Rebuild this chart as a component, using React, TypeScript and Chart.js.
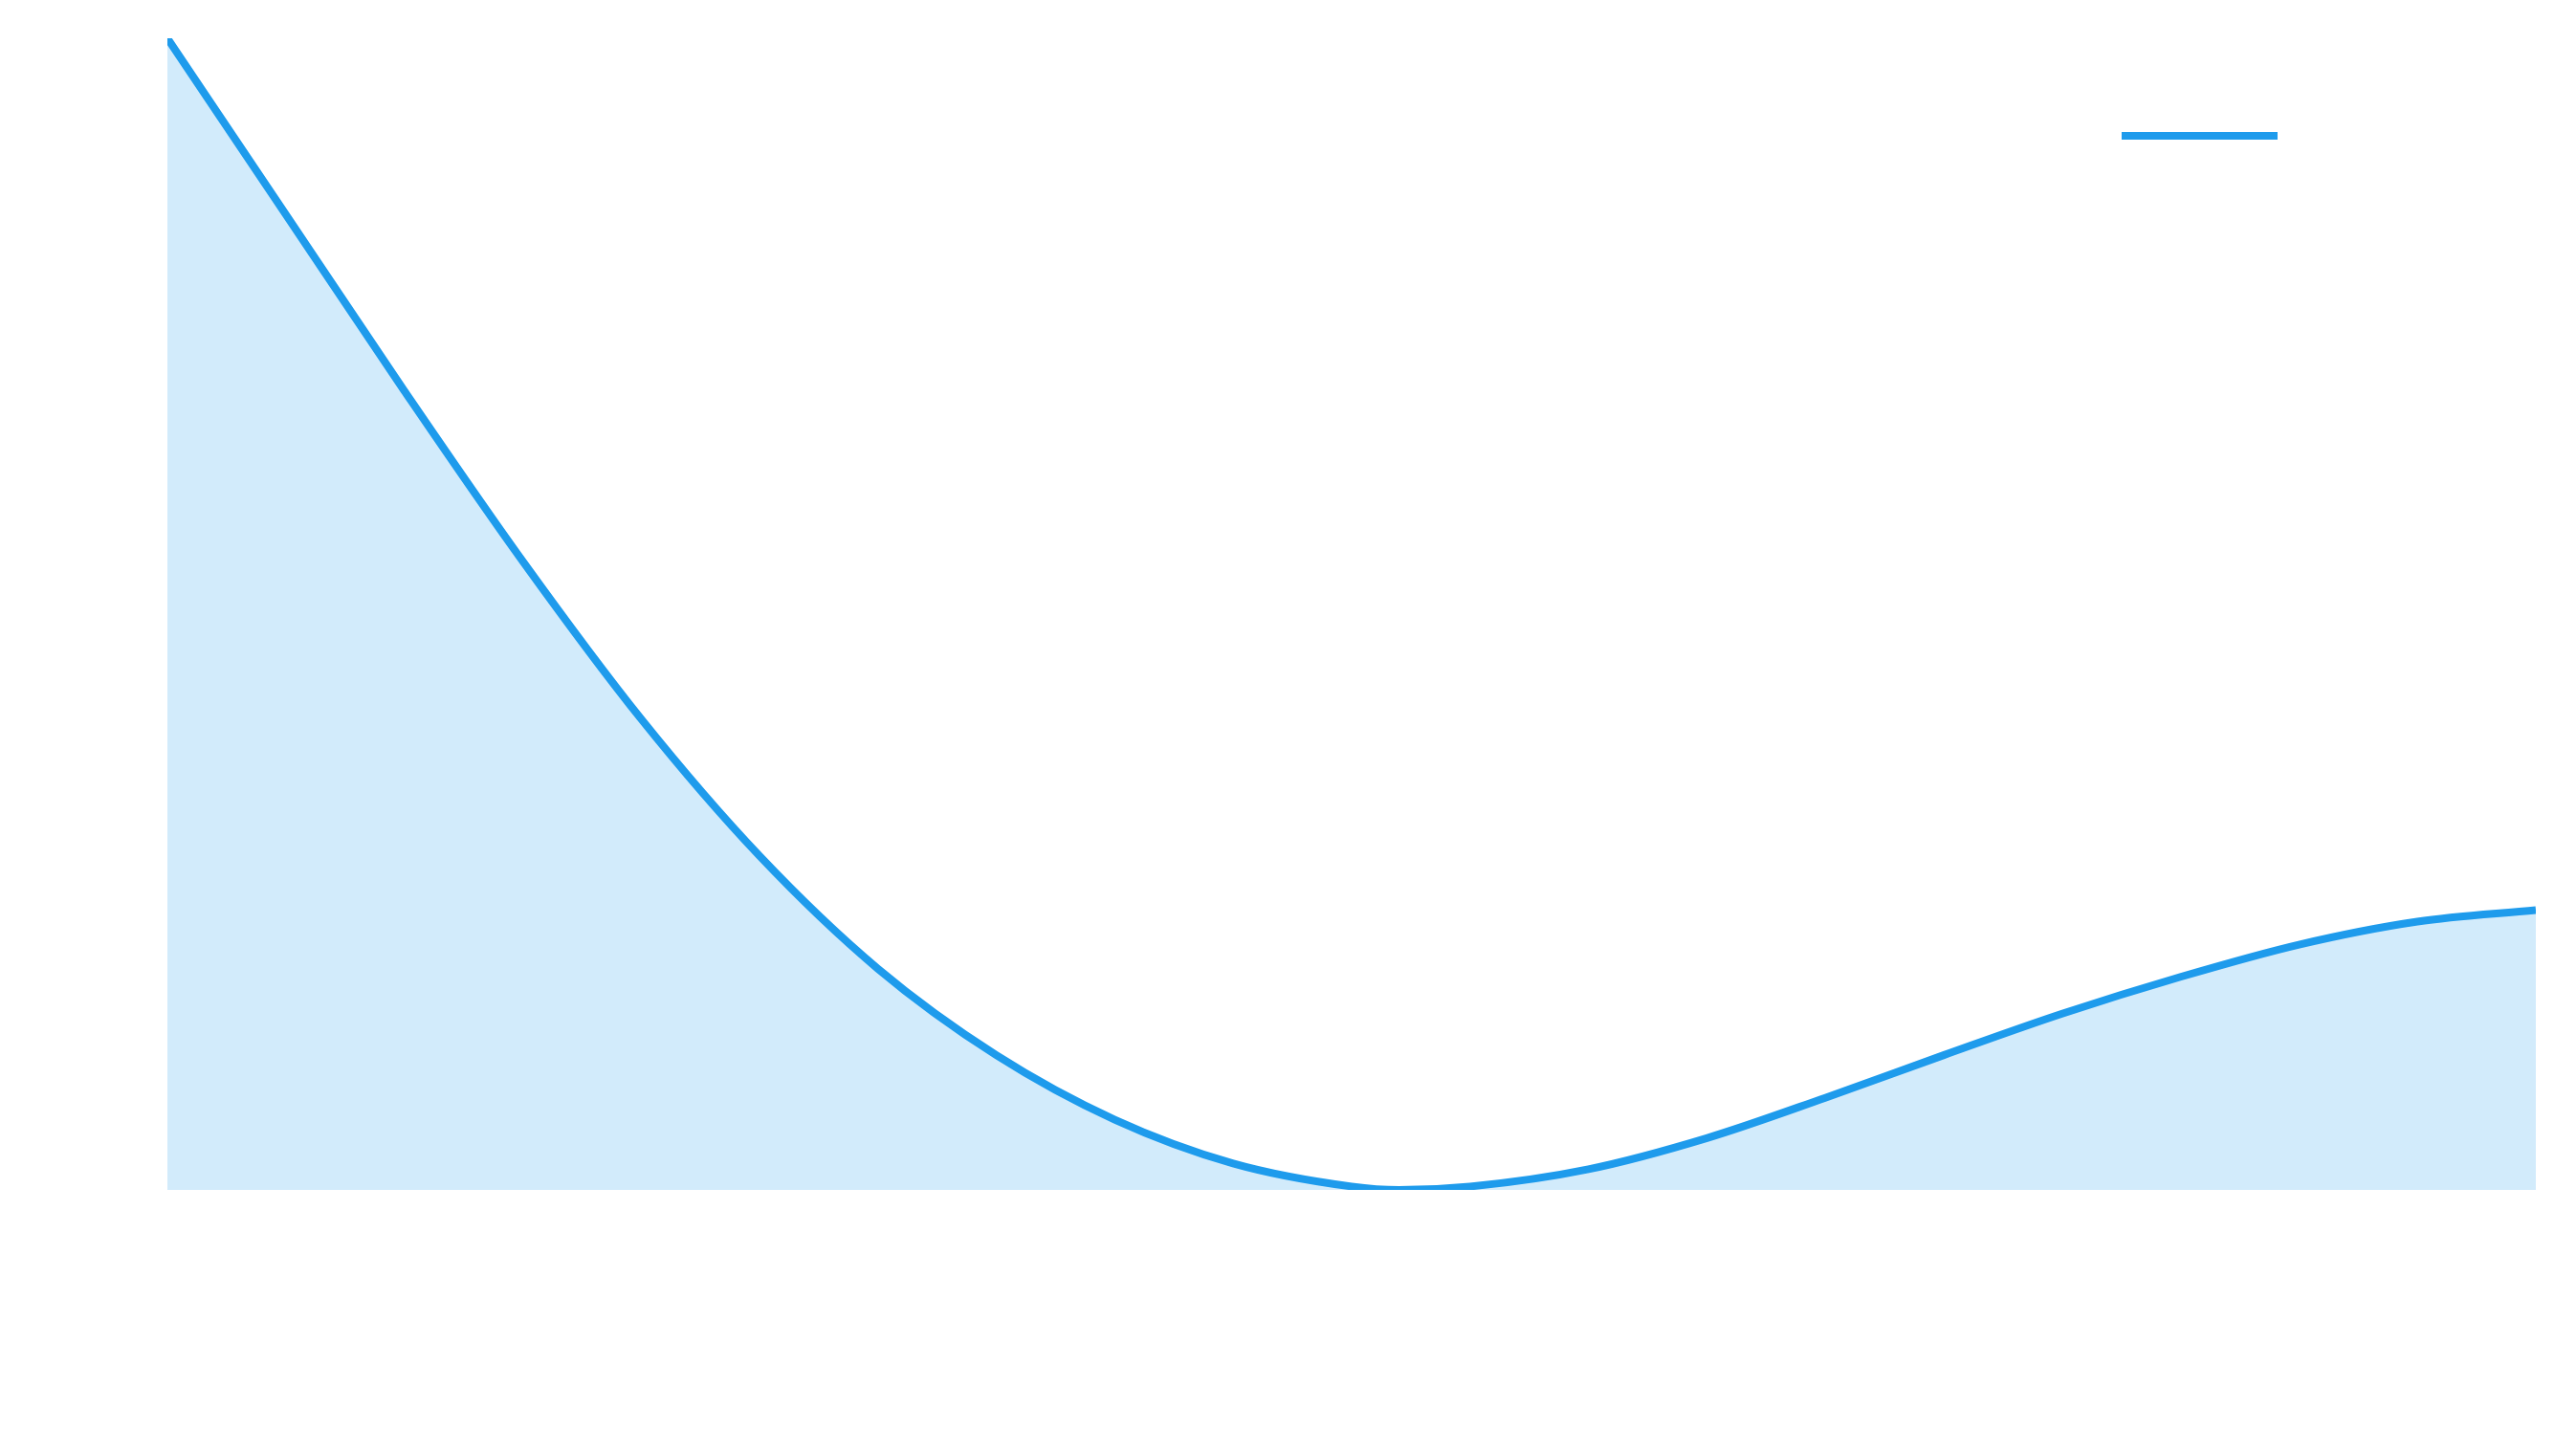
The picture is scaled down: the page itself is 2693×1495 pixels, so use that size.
import React, { useEffect, useRef } from "react";
import { Chart, registerables, ChartConfiguration, Plugin } from "chart.js";

Chart.register(...registerables);

// positions along the x axis (0..100) and the values
const xValues = [0, 5, 10, 15, 20, 25, 30, 35, 40, 45, 50, 52, 55,
  60, 65, 70, 75, 80, 85, 90, 95, 100];
const yValues = [100, 84.7, 69.4, 54.6, 40.9, 29.0, 19.2, 11.7, 6.1, 2.3, 0.3, 0, 0.3,
  1.8, 4.5, 8.0, 11.7, 15.3, 18.5, 21.3, 23.3, 24.3];
const seriesLabel = "";

const lineColor = "rgb(30, 155, 236)";
const fillColor = "rgba(30, 155, 236, 0.2)";

/** Puts the legend inside the plot area, near its top right corner. */
const legendPlacer: Plugin = {
  id: "legendPlacer",
  afterLayout(chart: any) {
    const legend = chart.legend;
    const area = chart.chartArea;
    if (!legend || !area) {
      return;
    }
    legend.left = area.right - 443;
    legend.top = area.top + 86;
    legend.right = legend.left + 400;
    legend.bottom = legend.top + 60;
  },
};

export default function App() {
  const canvas = useRef<HTMLCanvasElement>(null);

  useEffect(() => {
    const ctxt = canvas.current.getContext("2d");
    const config: ChartConfiguration = {
      type: "line",
      data: {
        datasets: [{
          label: seriesLabel,
          data: xValues.map((x, i) => ({ x, y: yValues[i] })),
          borderColor: lineColor,
          backgroundColor: fillColor,
          borderWidth: 8,
          fill: "origin",
          pointRadius: 0,
          cubicInterpolationMode: "monotone",
          clip: 0,
        }],
      },
      options: {
        animation: false,
        responsive: true,
        maintainAspectRatio: false,
        events: [],
        layout: {
          padding: { left: 167, top: 32, right: 34, bottom: 243 },
        },
        scales: {
          x: { type: "linear", min: 0, max: 100, display: false },
          y: { min: 0, max: 100, display: false },
        },
        plugins: {
          tooltip: { enabled: false },
          legend: {
            position: "chartArea",
            align: "start",
            labels: {
              usePointStyle: true,
              pointStyle: "line",
              pointStyleWidth: 163,
              padding: 10,
              font: { size: 12 },
            },
          },
        },
      },
      plugins: [legendPlacer],
    };
    const chart = new Chart(ctxt, config);
    return () => {
      chart.destroy();
    };
  }, []);

  return (
    <div style={{ position: "relative", width: "100%", height: 1479 }}>
      <canvas ref={canvas} />
    </div>
  );
}
